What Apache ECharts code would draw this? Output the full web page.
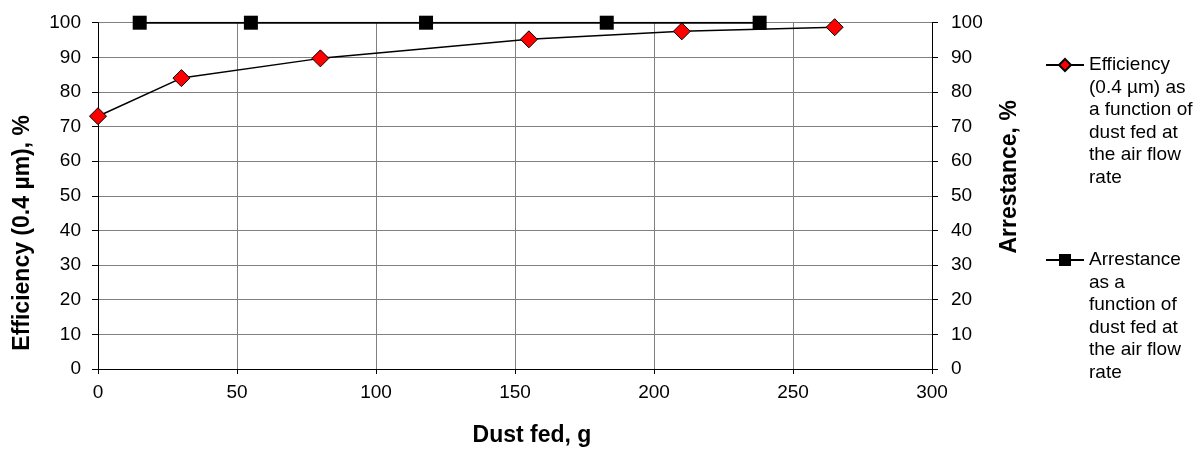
<!DOCTYPE html>
<html>
<head>
<meta charset="utf-8">
<script src="https://cdn.jsdelivr.net/npm/echarts@6/dist/echarts.min.js"></script>
<style>html,body{margin:0;padding:0;background:#fff}#c{width:1197px;height:452px}</style>
</head>
<body>
<div id="c"></div>
<script>
const xTicks = [0, 50, 100, 150, 200, 250, 300];
const efficiencyX = [0, 30, 80, 155, 210, 265];
const efficiencyY = [73, 84, 89.7, 95.2, 97.5, 98.7];
const arrestanceX = [15, 55, 118, 183, 238];
const arrestanceY = [100, 100, 100, 100, 100];
const effName = 'Efficiency\n(0.4 µm) as\na function of\ndust fed at\nthe air flow\nrate';
const arrName = 'Arrestance\nas a\nfunction of\ndust fed at\nthe air flow\nrate';

const FONT = '"Liberation Sans", Arial, sans-serif';
const chart = echarts.init(document.getElementById('c'), null, {renderer: 'canvas'});
const zip = (a, b) => a.map((v, i) => [v, b[i]]);
// pad with blank lines above so that the icon lines up with the first text line
const legendFmt = name => ' \n \n \n \n \n' + name;
const legendText = {fontFamily: FONT, fontSize: 19, color: '#000', lineHeight: 22.5};
const titleStyle = {fontFamily: FONT, fontSize: 23, fontWeight: 'bold', color: '#000'};
chart.setOption({
  animation: false,
  textStyle: {fontFamily: FONT},
  grid: {left: 98, right: 265, top: 22.7, bottom: 79, containLabel: false},
  legend: [
    {data: [effName], formatter: legendFmt, orient: 'vertical', left: 1045, top: -58.75, padding: 0, itemWidth: 38, itemHeight: 15, textStyle: legendText},
    {data: [arrName], formatter: legendFmt, orient: 'vertical', left: 1045, top: 136.25, padding: 0, itemWidth: 38, itemHeight: 15, textStyle: legendText}
  ],
  xAxis: {
    type: 'value', min: xTicks[0], max: xTicks[xTicks.length - 1], interval: 50,
    name: 'Dust fed, g', nameLocation: 'middle', nameGap: 55,
    nameTextStyle: Object.assign({padding: [0, 0, 0, 34]}, titleStyle),
    axisLine: {lineStyle: {color: '#000', width: 1}},
    axisTick: {show: true, length: 5, lineStyle: {color: '#000'}},
    axisLabel: {fontFamily: FONT, fontSize: 19, color: '#000', margin: 14},
    splitLine: {show: true, lineStyle: {color: '#808080', width: 1}}
  },
  yAxis: [
    {
      type: 'value', min: 0, max: 100, interval: 10, position: 'left',
      name: 'Efficiency (0.4 µm), %', nameLocation: 'middle', nameGap: 64,
      nameTextStyle: Object.assign({padding: [0, 74, 0, 0]}, titleStyle),
      axisLine: {show: true, lineStyle: {color: '#000', width: 1}},
      axisTick: {show: true, length: 6, lineStyle: {color: '#000'}},
      axisLabel: {fontFamily: FONT, fontSize: 19, color: '#000', margin: 17},
      splitLine: {show: true, lineStyle: {color: '#808080', width: 1}}
    },
    {
      type: 'value', min: 0, max: 100, interval: 10, position: 'right',
      name: 'Arrestance, %', nameLocation: 'middle', nameGap: 66,
      nameTextStyle: Object.assign({padding: [0, 0, 0, 38]}, titleStyle),
      axisLine: {show: true, lineStyle: {color: '#000', width: 1}},
      axisTick: {show: true, length: 6, lineStyle: {color: '#000'}},
      axisLabel: {fontFamily: FONT, fontSize: 19, color: '#000', margin: 19},
      splitLine: {show: false}
    }
  ],
  series: [
    {
      name: effName, type: 'line', yAxisIndex: 0, data: zip(efficiencyX, efficiencyY),
      symbol: 'diamond', symbolSize: 17,
      lineStyle: {color: '#000', width: 1.5},
      itemStyle: {color: '#ff0000', borderColor: '#000', borderWidth: 1},
      z: 3
    },
    {
      name: arrName, type: 'line', yAxisIndex: 1, data: zip(arrestanceX, arrestanceY),
      symbol: 'rect', symbolSize: 14,
      lineStyle: {color: '#000', width: 2},
      itemStyle: {color: '#000', borderColor: '#000', borderWidth: 0},
      z: 4
    }
  ]
});
</script>
</body>
</html>
